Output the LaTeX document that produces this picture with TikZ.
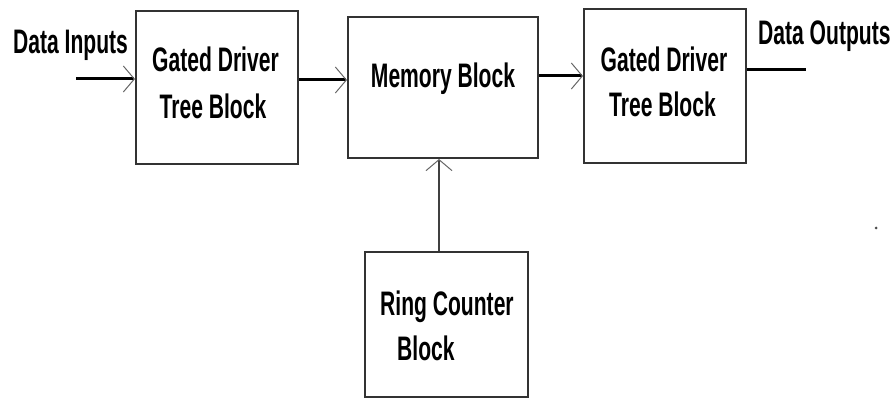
\documentclass[tikz,border=0pt]{standalone}
\usepackage{fontspec}
\setmainfont{Liberation Sans}[FakeStretch=0.62]
\usetikzlibrary{arrows.meta}

\tikzset{
  blk/.style={draw=black!80, line width=2pt, fill=white, inner sep=0pt},
  lbl/.style={font=\fontsize{34}{40}\selectfont\bfseries, inner sep=0pt, text=black},
  tip/.style={-{Straight Barb[length=11pt, width=26pt, line width=1pt, color=black!60]}},
  bus/.style={line width=3pt, black},
  ctl/.style={line width=2pt, black!75}
}

\begin{document}
\begin{tikzpicture}[x=1pt, y=-1pt]
  \useasboundingbox (0,0) rectangle (894,398);

  % blocks
  \node[blk, minimum width=162pt, minimum height=153pt] (g1) at (217,87.5) {};
  \node[blk, minimum width=190pt, minimum height=141pt] (mem) at (443,87.5) {};
  \node[blk, minimum width=162pt, minimum height=154pt] (g2) at (665,86) {};
  \node[blk, minimum width=163pt, minimum height=145pt] (rc) at (446.5,324.5) {};

  % block labels
  \node[lbl, anchor=base] (g1a) at (215.5,72) {Gated Driver};
  \node[lbl, anchor=base] (g1b) at (213,119) {Tree Block};
  \node[lbl, anchor=base] (mema) at (443,88) {Memory Block};
  \node[lbl, anchor=base] (g2a) at (664,72) {Gated Driver};
  \node[lbl, anchor=base] (g2b) at (662.5,117) {Tree Block};
  \node[lbl, anchor=base west] (rca) at (380,315) {Ring Counter};
  \node[lbl, anchor=base west] (rcb) at (397,360) {Block};

  % port labels
  \node[lbl, anchor=base west] (inl) at (13,54) {Data Inputs};
  \node[lbl, anchor=base west] (outl) at (758,45) {Data Outputs};

  % connector end points
  \coordinate (in) at (76,79);
  \coordinate (out) at (806,70);
  \coordinate (y1) at (0,80);
  \coordinate (y2) at (0,76);
  \coordinate (x1) at (439,0);

  % connectors
  \draw[bus, tip] (in) -- (in -| g1.west);
  \draw[bus, tip] (g1.east |- y1) -- (mem.west |- y1);
  \draw[bus, tip] (mem.east |- y2) -- (g2.west |- y2);
  \draw[bus] (g2.east |- out) -- (out);
  \draw[ctl, tip] (rc.north -| x1) -- (mem.south -| x1);

  % stray mark
  \fill[black!70] (876,228) circle[radius=1.5pt];
\end{tikzpicture}
\end{document}
